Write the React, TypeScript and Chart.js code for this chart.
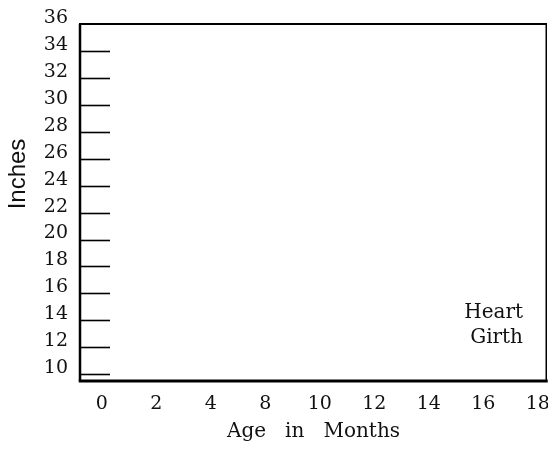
import React, { useEffect, useRef } from "react";
import { Chart, registerables } from "chart.js";

Chart.register(...registerables);

const xLabels = ["0", "2", "4", "8", "10", "12", "14", "16", "18"];
const yTicks = [10, 12, 14, 16, 18, 20, 22, 24, 26, 28, 30, 32, 34, 36];
const yMin = 9.5;
const yMax = 36;
const xTitle = "Age   in   Months";
const yTitle = "Inches";
const noteLines = ["Heart", "Girth"];

const SERIF = "'DejaVu Serif', serif";
const SANS = "'Liberation Sans', Arial, sans-serif";

const framePlugin = {
  id: "frame",
  afterDraw(chart: any) {
    const { ctx, chartArea: a, scales } = chart;
    const y = scales.y;
    ctx.save();
    ctx.strokeStyle = "#000";
    // inner tick marks
    ctx.lineWidth = 1.6;
    y.ticks.forEach((t: any) => {
      if (t.value >= yMax) return;
      const py = Math.round(y.getPixelForValue(t.value)) + 0.5;
      ctx.beginPath();
      ctx.moveTo(a.left, py);
      ctx.lineTo(a.left + 30, py);
      ctx.stroke();
    });
    // frame
    ctx.lineWidth = 2;
    ctx.beginPath();
    ctx.moveTo(a.left - 1, a.top);
    ctx.lineTo(a.right, a.top);
    ctx.stroke();
    ctx.lineWidth = 2.5;
    ctx.beginPath();
    ctx.moveTo(a.left, a.top);
    ctx.lineTo(a.left, a.bottom);
    ctx.stroke();
    ctx.lineWidth = 3;
    ctx.beginPath();
    ctx.moveTo(a.left - 1.25, a.bottom);
    ctx.lineTo(a.right + 0.75, a.bottom);
    ctx.stroke();
    ctx.lineWidth = 1.5;
    ctx.beginPath();
    ctx.moveTo(a.right - 0.75, a.top - 1);
    ctx.lineTo(a.right - 0.75, a.bottom);
    ctx.stroke();
    // annotation text
    ctx.fillStyle = "#111";
    ctx.font = `20px ${SERIF}`;
    ctx.textAlign = "right";
    ctx.textBaseline = "alphabetic";
    ctx.fillText(noteLines[0], a.right - 24, a.top + 294);
    ctx.fillText(noteLines[1], a.right - 24, a.top + 319);
    // y title
    ctx.font = `24px ${SANS}`;
    ctx.textAlign = "center";
    ctx.textBaseline = "alphabetic";
    ctx.translate(25, 174);
    ctx.rotate(-Math.PI / 2);
    ctx.fillText(yTitle, 0, 0);
    ctx.restore();
  },
};

export default function App() {
  const ref = useRef<HTMLCanvasElement | null>(null);
  useEffect(() => {
    if (!ref.current) return;
    const chart = new Chart(ref.current, {
      type: "line",
      data: { labels: xLabels, datasets: [] },
      options: {
        animation: false,
        responsive: false,
        maintainAspectRatio: false,
        layout: { padding: { top: 24, right: 1, bottom: 0, left: 0 } },
        plugins: { legend: { display: false }, tooltip: { enabled: false } },
        scales: {
          x: {
            type: "linear",
            position: "bottom",
            min: -0.4,
            max: 8.17,
            grid: { display: false, drawTicks: false },
            border: { display: false },
            afterBuildTicks: (s: any) => {
              s.ticks = xLabels.map((_, i) => ({ value: i }));
            },
            afterFit: (s: any) => {
              s.paddingLeft = 0;
              s.paddingRight = 0;
              s.height = 83;
            },
            ticks: {
              color: "#111",
              padding: 12,
              maxRotation: 0,
              autoSkip: false,
              font: { family: SERIF, size: 19 },
              callback: (v: any) => xLabels[v as number] ?? "",
            },
            title: {
              display: true,
              text: xTitle,
              color: "#111",
              font: { family: SERIF, size: 20 },
              padding: { top: 0, bottom: 20 },
            },
          },
          y: {
            type: "linear",
            min: yMin,
            max: yMax,
            grid: { display: false, drawTicks: false },
            border: { display: false },
            afterBuildTicks: (s: any) => {
              s.ticks = yTicks.map((v) => ({ value: v }));
            },
            afterFit: (s: any) => {
              s.width = 80;
              s.paddingTop = 0;
              s.paddingBottom = 0;
            },
            ticks: {
              color: "#111",
              padding: 12,
              labelOffset: -6,
              autoSkip: false,
              font: { family: SERIF, size: 19 },
            },
          },
        },
      },
      plugins: [framePlugin],
    });
    return () => chart.destroy();
  }, []);
  return (
    <div style={{ position: "fixed", left: 0, top: 0, width: 548, height: 464, background: "#fff" }}>
      <canvas ref={ref} width={548} height={464} style={{ display: "block" }} />
    </div>
  );
}
